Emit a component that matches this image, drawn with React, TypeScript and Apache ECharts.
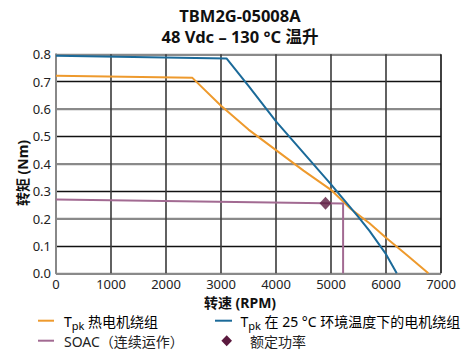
import React, { useEffect, useRef } from "react";
import * as echarts from "echarts";

const titleLines = ["TBM2G-05008A", "48 Vdc – 130 °C 温升"];
const xAxisName = "转速 (RPM)";
const yAxisName = "转矩 (Nm)";

// Tpk hot motor winding (orange)
const hotSpeed = [0, 2480, 3000, 3500, 4000, 4500, 5000, 5350, 5700, 6000, 6400, 6770];
const hotTorque = [0.722, 0.714, 0.612, 0.525, 0.45, 0.375, 0.305, 0.237, 0.183, 0.13, 0.063, 0];

// Tpk at 25 °C ambient (blue)
const ambSpeed = [0, 3100, 3500, 4000, 4500, 5000, 5500, 5700, 6000, 6195];
const ambTorque = [0.795, 0.785, 0.685, 0.555, 0.44, 0.325, 0.205, 0.155, 0.07, 0];

// SOAC continuous operation (purple)
const soacSpeed = [0, 5220, 5220];
const soacTorque = [0.27, 0.255, 0];

// Rated power point
const ratedSpeed = [4900];
const ratedTorque = [0.256];

const legendLabels = ["热电机绕组", "在 25 °C 环境温度下的电机绕组", "SOAC（连续运作）", "额定功率"];

const FONT = '"Noto Sans", "Noto Sans CJK SC", sans-serif';
const COLORS = { hot: "#ee9a2d", amb: "#1b6a99", soac: "#a26a92", rated: "#5b1a3e" };

const zip = (xs: number[], ys: number[]) => xs.map((x, i) => [x, ys[i]]);

export default function App() {
  const ref = useRef<HTMLDivElement>(null);
  useEffect(() => {
    if (!ref.current) return;
    const chart = echarts.init(ref.current, null, { renderer: "svg" });
    const rich = {
      t: { fontSize: 14, fontFamily: FONT, color: "#222" },
      s: { fontSize: 11, fontFamily: FONT, color: "#222", padding: [9, 0, 0, 0] },
    };
    chart.setOption({
      animation: false,
      grid: { left: 56, right: 32, top: 54.3, bottom: 82.7, containLabel: false },
      xAxis: {
        type: "value",
        min: 0,
        max: 7000,
        interval: 1000,
        axisLine: { show: false },
        axisTick: { show: false },
        axisLabel: { fontFamily: FONT, fontSize: 13, color: "#222", margin: 4, formatter: (v: number) => String(v) },
        splitLine: {
          show: true,
          lineStyle: { color: ["#888", "#3a3a3a", "#3a3a3a", "#3a3a3a", "#3a3a3a", "#3a3a3a", "#3a3a3a", "#111"], width: 1.6 },
        },
      },
      yAxis: [
        {
          type: "value",
          min: 0,
          max: 0.8,
          interval: 0.1,
          axisLine: { show: false },
          axisTick: { show: false },
          axisLabel: { fontFamily: FONT, fontSize: 13, color: "#222", margin: 5, formatter: (v: number) => v.toFixed(1) },
          splitLine: { show: true, lineStyle: { color: ["#8a8a8a", "#111"], width: 1.4 } },
        },
        {
          type: "value",
          min: 0,
          max: 0.8,
          interval: 0.2,
          position: "left",
          axisLine: { show: true, lineStyle: { color: "#888", width: 2 } },
          axisTick: { show: false },
          axisLabel: { show: false },
          splitLine: { show: true, lineStyle: { color: "#8a8a8a", width: 2.2 } },
        },
      ],
      series: [
        {
          name: "hot",
          type: "line",
          data: zip(hotSpeed, hotTorque),
          symbol: "none",
          lineStyle: { color: COLORS.hot, width: 2 },
          z: 3,
        },
        {
          name: "amb",
          type: "line",
          data: zip(ambSpeed, ambTorque),
          symbol: "none",
          lineStyle: { color: COLORS.amb, width: 2 },
          z: 3,
        },
        {
          name: "soac",
          type: "line",
          data: zip(soacSpeed, soacTorque),
          symbol: "none",
          lineStyle: { color: COLORS.soac, width: 2 },
          z: 3,
        },
        {
          name: "rated",
          type: "scatter",
          data: zip(ratedSpeed, ratedTorque),
          symbol: "diamond",
          symbolSize: [12, 13],
          itemStyle: { color: COLORS.rated },
          z: 4,
        },
      ],
      graphic: [
        {
          type: "text",
          x: 240,
          y: 15,
          style: { text: titleLines[0], font: `bold 16.5px ${FONT}`, fill: "#111", align: "center", verticalAlign: "middle" },
        },
        {
          type: "text",
          x: 240,
          y: 36.3,
          style: { text: titleLines[1], font: `bold 16.5px ${FONT}`, fill: "#111", align: "center", verticalAlign: "middle" },
        },
        {
          type: "text",
          x: 240,
          y: 302.5,
          style: { text: xAxisName, font: `bold 14px ${FONT}`, fill: "#111", align: "center", verticalAlign: "middle" },
        },
        {
          type: "text",
          x: 22,
          y: 173,
          rotation: Math.PI / 2,
          style: { text: yAxisName, font: `bold 14px ${FONT}`, fill: "#111", align: "center", verticalAlign: "middle" },
        },
        // legend row 1
        { type: "line", shape: { x1: 38, y1: 320.7, x2: 54, y2: 320.7 }, style: { stroke: COLORS.hot, lineWidth: 2 } },
        {
          type: "text",
          x: 64,
          y: 321,
          style: { text: `{t|T}{s|pk}{t| ${legendLabels[0]}}`, rich, verticalAlign: "middle", align: "left" },
        },
        { type: "line", shape: { x1: 215, y1: 320.7, x2: 232, y2: 320.7 }, style: { stroke: COLORS.amb, lineWidth: 2 } },
        {
          type: "text",
          x: 240.5,
          y: 321,
          style: { text: `{t|T}{s|pk}{t| ${legendLabels[1]}}`, rich, verticalAlign: "middle", align: "left" },
        },
        // legend row 2
        { type: "line", shape: { x1: 38, y1: 340.7, x2: 54, y2: 340.7 }, style: { stroke: COLORS.soac, lineWidth: 2 } },
        {
          type: "text",
          x: 64,
          y: 341,
          style: { text: legendLabels[2], font: `14px ${FONT}`, fill: "#222", verticalAlign: "middle", align: "left" },
        },
        {
          type: "polygon",
          shape: { points: [[226.7, 335.2], [232, 340.7], [226.7, 346.2], [221.4, 340.7]] },
          style: { fill: COLORS.rated },
        },
        {
          type: "text",
          x: 250,
          y: 341,
          style: { text: legendLabels[3], font: `14px ${FONT}`, fill: "#222", verticalAlign: "middle", align: "left" },
        },
      ],
    });
    return () => chart.dispose();
  }, []);
  return <div ref={ref} style={{ position: "fixed", left: 0, top: 0, width: 473, height: 356, background: "#fff" }} />;
}
